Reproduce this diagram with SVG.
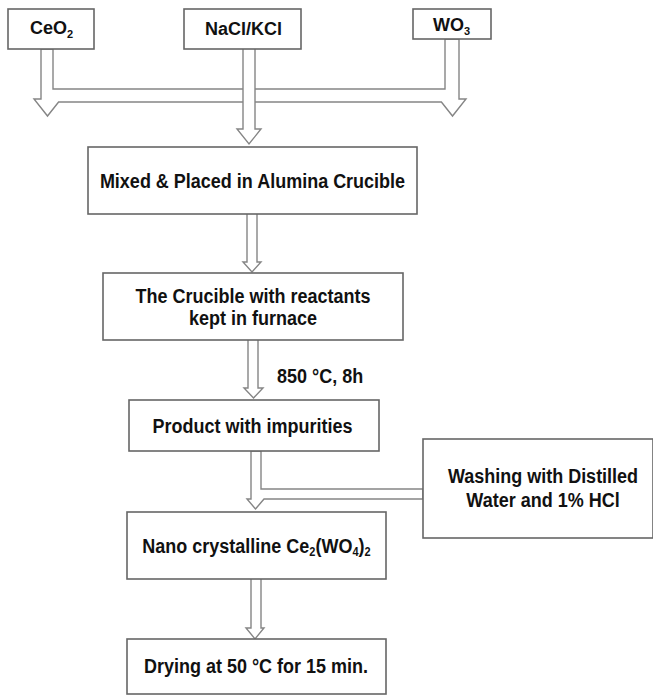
<svg xmlns="http://www.w3.org/2000/svg" width="653" height="695" viewBox="0 0 653 695">
<style>
.box{fill:#fff;stroke:#666;stroke-width:1.6}
.arr{fill:#fff;stroke:#858585;stroke-width:1.4;stroke-linejoin:miter}
.t{font-family:"Liberation Sans",Arial,sans-serif;font-weight:bold;font-size:18px;fill:#111;text-anchor:middle}
.tl{font-family:"Liberation Sans",Arial,sans-serif;font-weight:bold;font-size:18px;fill:#111}
.sub{font-size:11px}
</style>
<rect width="653" height="695" fill="#fff"/>
<g id="connectors">
<path class="arr" d="M41,49 V99 H34 L47.5,116 L58.6,102 H441.4 L452.5,116 L466,99 H459 V39 H445 V89 H53 V49 Z"/>
<path class="arr" d="M243,49 V129 H237 L249,144 L261,129 H255 V49"/>
<path class="arr" d="M247,214 V262 H243 L252,272 L261,262 H257 V214"/>
<path class="arr" d="M248,340 V388 H244 L253.5,398 L263,388 H258 V340"/>
<path class="arr" d="M251,451 V499 H247 L255.5,509 L264,499 H423 V489 H261 V451 Z"/>
<path class="arr" d="M251,579 V628 H246 L255,639 L264,628 H261 V579"/>
</g>
<g id="ceo2">
<rect class="box" x="8" y="9" width="86" height="40"/>
<text class="tl" x="30" y="34">CeO<tspan class="sub" dy="4">2</tspan></text>
</g>
<g id="nacl">
<rect class="box" x="184" y="9" width="117" height="40"/>
<text class="tl" x="205" y="35">NaCl/KCl</text>
</g>
<g id="wo3">
<rect class="box" x="413" y="9" width="78" height="30"/>
<text class="tl" x="433" y="31">WO<tspan class="sub" dy="4">3</tspan></text>
</g>
<g id="mixed">
<rect class="box" x="88" y="147" width="329" height="67"/>
<text class="t" transform="translate(252.5,188) scale(1,1.17)">Mixed &amp; Placed in Alumina Crucible</text>
</g>
<g id="crucible">
<rect class="box" x="103" y="273" width="300" height="67"/>
<text class="t" transform="translate(253,302.5) scale(1,1.17)">The Crucible with reactants</text>
<text class="t" transform="translate(253,325) scale(1,1.17)">kept in furnace</text>
</g>
<g id="cond">
<text class="tl" transform="translate(277,383) scale(1,1.17)">850 °C, 8h</text>
</g>
<g id="product">
<rect class="box" x="129" y="400" width="250" height="51"/>
<text class="t" transform="translate(252.5,433) scale(1,1.17)">Product with impurities</text>
</g>
<g id="washing">
<rect class="box" x="423" y="439" width="230" height="99"/>
<text class="t" transform="translate(543,483) scale(1,1.17)">Washing with Distilled</text>
<text class="t" transform="translate(543,507) scale(1,1.17)">Water and 1% HCl</text>
</g>
<g id="nano">
<rect class="box" x="127" y="512" width="259" height="67"/>
<text class="t" transform="translate(256.5,552.5) scale(1,1.17)">Nano crystalline Ce<tspan class="sub" dy="3">2</tspan><tspan dy="-3">(WO</tspan><tspan class="sub" dy="3">4</tspan><tspan dy="-3">)</tspan><tspan class="sub" dy="3">2</tspan></text>
</g>
<g id="drying">
<rect class="box" x="127" y="639" width="259" height="55"/>
<text class="t" transform="translate(256,673) scale(1,1.17)">Drying at 50 °C for 15 min.</text>
</g>
</svg>
